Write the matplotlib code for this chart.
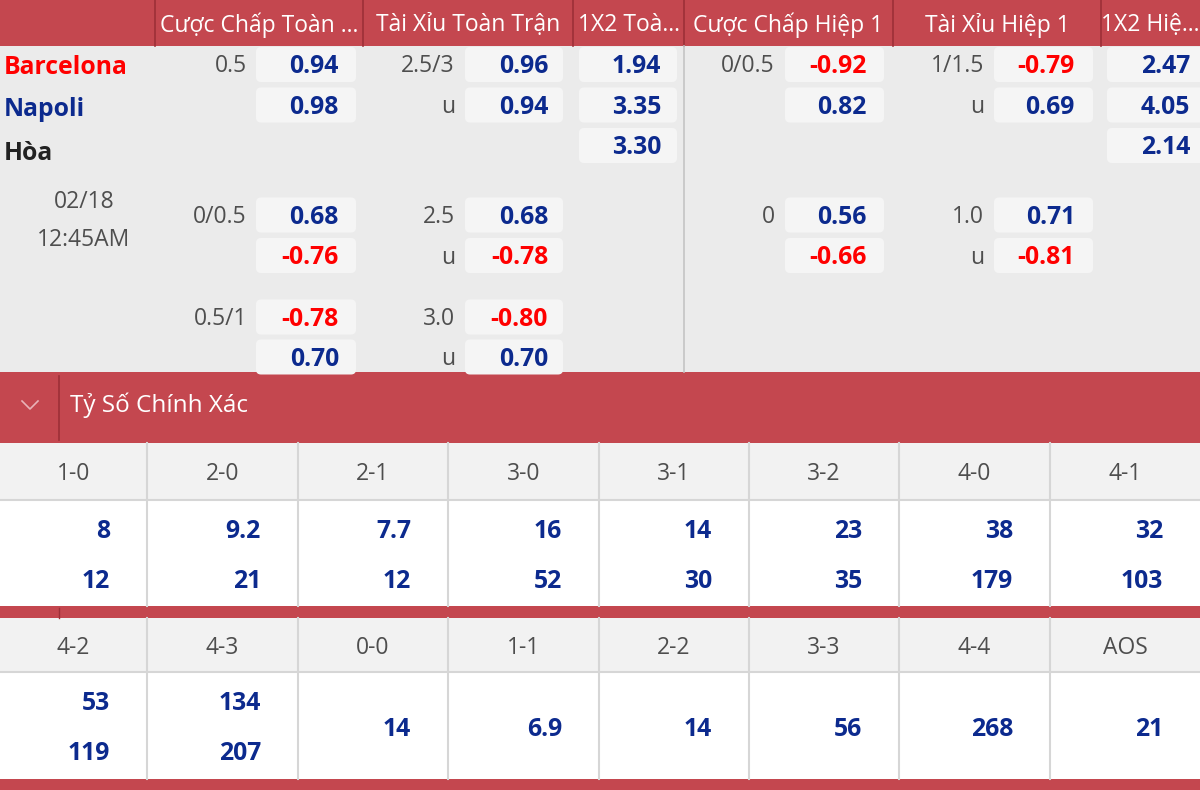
import matplotlib
matplotlib.use("Agg")
import matplotlib.pyplot as plt
from matplotlib.patches import Rectangle, FancyBboxPatch

plt.rcParams['font.family'] = ['Open Sans', 'DejaVu Sans']

# ---------------- data ----------------
headers = ["Cược Chấp Toàn ...", "Tài Xỉu Toàn Trận", "1X2 Toà...",
           "Cược Chấp Hiệp 1", "Tài Xỉu Hiệp 1", "1X2 Hiệ..."]
teams = ["Barcelona", "Napoli", "Hòa"]
kickoff_date = "02/18"
kickoff_time = "12:45AM"

ah_full_lines = ["0.5", "0/0.5", "0.5/1"]
ah_full_odds = [[0.94, 0.98], [0.68, -0.76], [-0.78, 0.70]]
ou_full_lines = ["2.5/3", "2.5", "3.0"]
ou_full_odds = [[0.96, 0.94], [0.68, -0.78], [-0.80, 0.70]]
x12_full = [1.94, 3.35, 3.30]
ah_h1_lines = ["0/0.5", "0"]
ah_h1_odds = [[-0.92, 0.82], [0.56, -0.66]]
ou_h1_lines = ["1/1.5", "1.0"]
ou_h1_odds = [[-0.79, 0.69], [0.71, -0.81]]
x12_h1 = [2.47, 4.05, 2.14]

section_title = "Tỷ Số Chính Xác"
score_labels_1 = ["1-0", "2-0", "2-1", "3-0", "3-1", "3-2", "4-0", "4-1"]
score_home_1 = [8, 9.2, 7.7, 16, 14, 23, 38, 32]
score_away_1 = [12, 21, 12, 52, 30, 35, 179, 103]
score_labels_2 = ["4-2", "4-3", "0-0", "1-1", "2-2", "3-3", "4-4", "AOS"]
score_home_2 = [53, 134]
score_away_2 = [119, 207]
score_single_2 = [14, 6.9, 14, 56, 268, 21]

# ---------------- style ----------------
RED = "#c4474f"
DARKRED = "#9d3038"
BODY = "#ebebeb"
BOX = "#f5f5f5"
BLUE = "#0c2a8e"
NEG = "#ff0000"
GRAY = "#4e4e4e"
LINE = "#d6d6d6"
FS_NUM = 17.8
FS_TXT = 16.5
DY = 3

fig = plt.figure(figsize=(12, 7.9), dpi=100)
ax = fig.add_axes([0, 0, 1, 1])
ax.set_xlim(0, 1200)
ax.set_ylim(790, 0)
ax.axis("off")

def rect(x0, y0, x1, y1, color, z=0):
    ax.add_patch(Rectangle((x0, y0), x1 - x0, y1 - y0, facecolor=color,
                           edgecolor="none", zorder=z))

def txt(x, y, s, **kw):
    ax.text(x, y + DY, s, va="center", zorder=3, **kw)

# ---------------- top odds section ----------------
rect(0, 0, 1200, 46, RED)
rect(0, 46, 1200, 372, BODY)
col_edges = [155, 363, 573, 684, 893, 1101, 1200]
for x in col_edges[:-1]:
    ax.plot([x, x], [0, 46], color=DARKRED, lw=1.2, zorder=1)
for i, h in enumerate(headers):
    cx = (col_edges[i] + col_edges[i + 1]) / 2
    txt(cx, 22, h, color="white", fontsize=FS_TXT, ha="center")
ax.plot([684, 684], [46, 372], color="#c4c4c4", lw=1.2, zorder=1)

team_colors = [NEG, BLUE, "#222222"]
team_y = [65, 107, 151]
for t, c, y in zip(teams, team_colors, team_y):
    txt(4, y, t, color=c, fontsize=FS_NUM, fontweight="bold", ha="left")
txt(84, 199, kickoff_date, color=GRAY, fontsize=FS_TXT, ha="center")
txt(84, 237, kickoff_time, color=GRAY, fontsize=FS_TXT, ha="center")

group_rows = [[64.5, 105], [215, 255.5], [317, 357]]
x12_rows = [64.5, 105, 145.5]
BOX_H = 35

def odd_box(bx0, bx1, vx, y, val):
    ax.add_patch(FancyBboxPatch((bx0, y - BOX_H / 2), bx1 - bx0, BOX_H,
                                boxstyle="round,pad=0,rounding_size=5",
                                facecolor=BOX, edgecolor="none", zorder=1))
    txt(vx, y - 1, f"{val:.2f}", color=NEG if val < 0 else BLUE,
        fontsize=FS_NUM, fontweight="bold", ha="right")

def market(lines, odds, lx, bx0, bx1, vx, ou=False):
    for g, (ln, pair) in enumerate(zip(lines, odds)):
        r0, r1 = group_rows[g]
        txt(lx, r0 - 1, ln, color=GRAY, fontsize=FS_TXT, ha="right")
        if ou:
            txt(lx, r1 - 1, "u", color=GRAY, fontsize=FS_TXT, ha="right")
        odd_box(bx0, bx1, vx, r0, pair[0])
        odd_box(bx0, bx1, vx, r1, pair[1])

market(ah_full_lines, ah_full_odds, 247, 256, 356, 339)
market(ou_full_lines, ou_full_odds, 455, 465, 563, 548, ou=True)
market(ah_h1_lines, ah_h1_odds, 775, 785, 884, 867)
market(ou_h1_lines, ou_h1_odds, 984, 994, 1093, 1075, ou=True)
for y, v in zip(x12_rows, x12_full):
    odd_box(579, 677, 661, y, v)
for y, v in zip(x12_rows, x12_h1):
    odd_box(1107, 1210, 1190, y, v)

# ---------------- correct score section ----------------
rect(0, 372, 1200, 443, RED)
ax.plot([59, 59], [376, 440], color=DARKRED, lw=1.2, zorder=1)
ax.plot([22, 30, 38], [401, 409, 401], color="#e9b3b7", lw=1.2, zorder=2)
txt(70, 402, section_title, color="white", fontsize=FS_TXT + 1, ha="left")

score_edges = [0, 147, 298, 448, 599, 749, 899, 1050, 1200]

def score_block(y_head0, y_head1, y_val1, labels):
    rect(0, y_head0, 1200, y_head1, "#f2f2f2")
    rect(0, y_head1, 1200, y_val1, "white")
    ax.plot([0, 1200], [y_head1, y_head1], color=LINE, lw=1.5, zorder=1)
    for x in score_edges[1:-1]:
        ax.plot([x, x], [y_head0, y_val1], color=LINE, lw=1.5, zorder=1)
    for i, lab in enumerate(labels):
        cx = (score_edges[i] + score_edges[i + 1]) / 2
        txt(cx, (y_head0 + y_head1) / 2, lab, color=GRAY,
            fontsize=FS_TXT, ha="center")

def sv(i, y, v):
    txt(score_edges[i + 1] - 37, y, f"{v:g}", color=BLUE, fontsize=FS_NUM,
        fontweight="bold", ha="right")

score_block(443, 500, 606, score_labels_1)
for i, (h, a) in enumerate(zip(score_home_1, score_away_1)):
    sv(i, 529, h)
    sv(i, 578, a)

rect(0, 606, 1200, 618, RED)
ax.plot([59, 59], [608, 618], color=DARKRED, lw=1, zorder=1)

score_block(618, 672, 779, score_labels_2)
for i, (h, a) in enumerate(zip(score_home_2, score_away_2)):
    sv(i, 701, h)
    sv(i, 750, a)
for j, v in enumerate(score_single_2):
    sv(j + len(score_home_2), 726, v)

rect(0, 779, 1200, 790, RED)

fig.savefig("out.png", dpi=100)
